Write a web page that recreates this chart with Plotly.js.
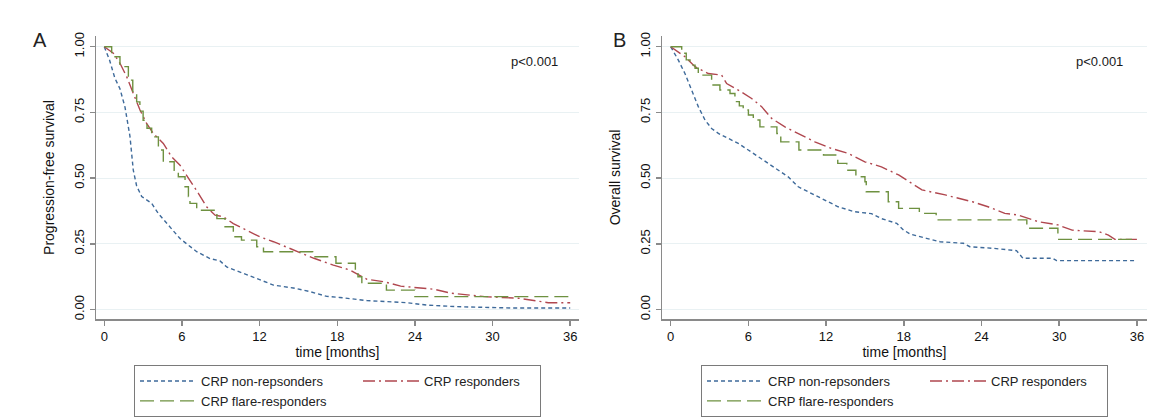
<!DOCTYPE html>
<html>
<head>
<meta charset="utf-8">
<script src="https://cdn.plot.ly/plotly-3.0.1.min.js"></script>
<style>
  html, body { margin:0; padding:0; background:#fff; }
  #wrap { position:relative; width:1176px; height:419px; overflow:hidden; }
  #frame { position:absolute; left:8px; top:4px; width:1200px; height:440px; border:2px solid #edf2f2; box-sizing:border-box; }
  #plotA { position:absolute; left:0; top:0; width:588px; height:419px; }
  #plotB { position:absolute; left:588px; top:0; width:588px; height:419px; }
</style>
</head>
<body>
<div id="wrap">
  <div id="frame"></div>
  <div id="plotA"></div>
  <div id="plotB"></div>
</div>
<script>
// ---------- Data ----------
const seriesNames = ['CRP non-repsonders', 'CRP responders', 'CRP flare-responders'];
const yTickVals = [0, 0.25, 0.5, 0.75, 1];
const yTickText = ['0.00', '0.25', '0.50', '0.75', '1.00'];
const xTickVals = [0, 6, 12, 18, 24, 30, 36];

// Panel A: progression-free survival
const pfsNonT = [0,0.4,0.82,1.21,1.6,1.98,2.24,2.5,2.89,3.66,4.18,4.82,5.85,6.5,7.14,8.17,8.94,9.46,10.5,11.78,13.07,14.6,15.9,17.2,18.2,20.3,23.4,24.9,27.2,31.4,36];
const pfsNonS = [1,0.95,0.88,0.84,0.77,0.66,0.53,0.47,0.43,0.404,0.365,0.327,0.27,0.245,0.22,0.194,0.185,0.162,0.143,0.118,0.093,0.082,0.068,0.05,0.046,0.034,0.026,0.017,0.011,0.006,0.006];

const pfsRespT = [0,0.7,1.21,1.73,2.24,2.76,3.27,3.79,4.56,5.2,5.85,6.62,7.27,7.9,8.56,9.2,9.97,10.75,12.0,13.07,14.36,15.1,16.2,17.7,19.0,20.3,21.6,22.9,25.5,26.8,29.4,32.0,34.3,36];
const pfsRespS = [1,0.975,0.937,0.886,0.822,0.759,0.708,0.67,0.632,0.581,0.549,0.492,0.442,0.391,0.359,0.353,0.327,0.308,0.277,0.258,0.232,0.218,0.195,0.169,0.15,0.115,0.106,0.089,0.077,0.062,0.049,0.043,0.026,0.026];

const pfsFlareT = [0,0.57,1.21,1.86,2.2,2.5,2.75,3.0,3.3,3.66,4.18,4.56,5.4,5.72,6.24,6.5,6.62,7.14,8.7,9.33,9.97,10.6,11.78,12.3,16.1,17.9,19.4,19.6,19.9,21.8,24.0,36];
const pfsFlareS = [1,0.962,0.924,0.873,0.83,0.79,0.755,0.72,0.69,0.657,0.607,0.562,0.53,0.505,0.467,0.43,0.404,0.378,0.346,0.315,0.277,0.264,0.239,0.22,0.201,0.176,0.15,0.125,0.1,0.074,0.049,0.049];

// Panel B: overall survival
const osNonT = [0,0.59,1.1,1.62,2.13,2.65,3.16,3.68,4.45,5.22,5.99,6.76,7.53,8.3,9.07,9.85,10.87,11.9,12.93,14.2,15.5,16.27,17.45,17.97,18.5,19.75,20.8,22.6,23.1,24.9,26.7,27.2,29.5,29.8,36];
const osNonS = [1,0.949,0.898,0.835,0.772,0.721,0.689,0.67,0.651,0.632,0.607,0.581,0.556,0.53,0.505,0.467,0.442,0.416,0.391,0.372,0.365,0.346,0.328,0.303,0.287,0.271,0.258,0.252,0.239,0.233,0.224,0.195,0.195,0.186,0.186];

const osRespT = [0,1.1,1.88,2.9,3.93,4.32,5.22,6.25,7.02,7.8,8.82,9.85,11.13,12.4,13.7,14.99,16.27,17.6,18.6,19.4,21.2,23.3,24.5,25.8,26.8,28.4,29.9,31.0,33.1,33.8,34.3,36];
const osRespS = [1,0.962,0.924,0.898,0.892,0.86,0.835,0.803,0.772,0.727,0.695,0.67,0.638,0.613,0.594,0.562,0.543,0.512,0.48,0.455,0.436,0.41,0.391,0.366,0.36,0.334,0.322,0.302,0.296,0.283,0.267,0.267];

const osFlareT = [0,0.85,1.2,1.49,1.88,2.13,3.16,3.8,4.58,4.96,5.3,5.6,6.0,6.38,6.89,8.2,8.5,9.9,11.8,12.9,13.6,14.3,15.0,15.1,16.8,17.6,19.2,20.5,27.5,29.9,36];
const osFlareS = [1,0.975,0.95,0.93,0.918,0.892,0.854,0.835,0.822,0.791,0.775,0.759,0.74,0.721,0.695,0.67,0.638,0.607,0.588,0.556,0.53,0.505,0.486,0.448,0.41,0.385,0.366,0.341,0.309,0.267,0.267];

// ---------- Styles ----------
const FONT = 'Arial, "Liberation Sans", sans-serif';
const colors = ['#3e6a9a', '#b0474f', '#6e9140'];
const dashes = ['4px,3px', '12px,4px,2px,4px', '14px,6px'];
const shapes = ['linear', 'linear', 'hv'];
const legendWidths = [152, 111, 152];

function makeTraces(sets) {
  return sets.map((s, i) => ({
    x: s[0], y: s[1], type: 'scatter', mode: 'lines', name: seriesNames[i],
    line: { color: colors[i], width: 1.4, dash: dashes[i], shape: shapes[i] },
    legendwidth: legendWidths[i], hoverinfo: 'skip'
  }));
}

function makeLayout(opts) {
  const H = 419, top = 36, bottom = 100;
  const ph = H - top - bottom;
  const ypx = p => (H - bottom - p) / ph;
  const pw = 588 - opts.l - opts.r;
  const xpx = p => (p - opts.l) / pw;
  return {
    width: 588, height: 419,
    margin: { l: opts.l, r: opts.r, t: top, b: bottom, pad: 0, autoexpand: false },
    paper_bgcolor: '#fff', plot_bgcolor: '#fff',
    font: { family: FONT, color: '#111', size: 13 },
    showlegend: true,
    legend: {
      orientation: 'h', x: 0.5, xanchor: 'center', xref: 'paper',
      y: (H - 365) / H, yanchor: 'top', yref: 'container',
      bordercolor: '#7a7a7a', borderwidth: 1, bgcolor: '#fff',
      font: { family: FONT, size: 13, color: '#222' }, itemwidth: 56,
      traceorder: 'normal'
    },
    xaxis: {
      range: opts.xr, tickvals: xTickVals, ticks: 'outside', ticklen: 5, tickwidth: 1.5,
      tickcolor: '#8a8a8a', showline: true, linecolor: '#8a8a8a', linewidth: 1.5,
      showgrid: false, zeroline: false, tickfont: { size: 13, color: '#111' },
      title: { text: 'time [months]', font: { size: 14, color: '#111' }, standoff: 2 },
      fixedrange: true
    },
    yaxis: {
      range: [-0.036, 1.0407], tickvals: yTickVals, ticktext: yTickText, tickangle: -90,
      ticks: 'outside', ticklen: 5, tickwidth: 1.5, tickcolor: '#8a8a8a',
      showline: true, linecolor: '#8a8a8a', linewidth: 1.5,
      showgrid: true, gridcolor: '#e9f1f3', gridwidth: 1, zeroline: false,
      tickfont: { size: 13, color: '#111' },
      title: { text: opts.ytitle, font: { size: 14, color: '#111' }, standoff: 14 },
      fixedrange: true
    },
    annotations: [
      { text: opts.letter, xref: 'paper', yref: 'paper', x: xpx(opts.letterX), y: ypx(40),
        xanchor: 'center', yanchor: 'middle', showarrow: false,
        font: { size: 20, color: '#222', family: FONT } },
      { text: 'p&lt;0.001', xref: 'paper', yref: 'paper', x: xpx(opts.pX), y: ypx(61.5),
        xanchor: 'center', yanchor: 'middle', showarrow: false,
        font: { size: 13, color: '#1a1a1a', family: FONT } }
    ]
  };
}

const cfg = { staticPlot: true, displayModeBar: false };

Plotly.newPlot('plotA',
  makeTraces([[pfsNonT, pfsNonS], [pfsRespT, pfsRespS], [pfsFlareT, pfsFlareS]]),
  makeLayout({ l: 96, r: 9, xr: [-0.641, 36.68], ytitle: 'Progression-free survival',
               letter: 'A', letterX: 40, pX: 534 }), cfg);

Plotly.newPlot('plotB',
  makeTraces([[osNonT, osNonS], [osRespT, osRespS], [osFlareT, osFlareS]]),
  makeLayout({ l: 74, r: 29, xr: [-0.672, 36.78], ytitle: 'Overall survival',
               letter: 'B', letterX: 31, pX: 511 }), cfg);
</script>
</body>
</html>
